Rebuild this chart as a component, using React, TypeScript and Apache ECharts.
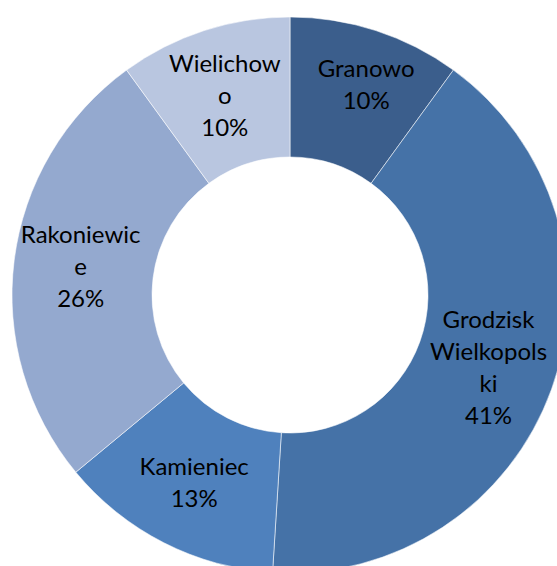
import React, { useEffect, useRef } from "react";
import * as echarts from "echarts";

const categories = ["Granowo", "Grodzisk Wielkopolski", "Kamieniec", "Rakoniewice", "Wielichowo"];
const values = [10, 41, 13, 26, 10];
const labelLines = [
  ["Granowo"],
  ["Grodzisk", "Wielkopols", "ki"],
  ["Kamieniec"],
  ["Rakoniewic", "e"],
  ["Wielichow", "o"],
];
const labelOffsets = [[11, -11], [0, 0], [0, -2], [0, -3], [0, 0]];
const colors = ["#3B5E8C", "#4572A7", "#4F81BD", "#94A9CF", "#B9C6E0"];

export default function App() {
  const ref = useRef<HTMLDivElement>(null);
  useEffect(() => {
    if (!ref.current) return;
    const chart = echarts.init(ref.current, null, { renderer: "svg" });
    const total = values.reduce((a, b) => a + b, 0);
    chart.setOption({
      animation: false,
      backgroundColor: "#ffffff",
      series: [
        {
          type: "pie",
          center: [290, 295],
          radius: [138, 278],
          startAngle: 90,
          clockwise: true,
          silent: true,
          emphasis: { disabled: true },
          itemStyle: { borderColor: "rgba(255,255,255,0.55)", borderWidth: 1 },
          label: {
            show: true,
            position: "inside",
            color: "#000000",
            fontFamily: "Lato",
            fontSize: 24,
            lineHeight: 32,
            align: "center",
            formatter: (p: any) => {
              const pct = Math.round((values[p.dataIndex] / total) * 100);
              return [...labelLines[p.dataIndex], pct + "%"].join("\n");
            },
          },
          labelLine: { show: false },
          data: categories.map((c, i) => ({
            name: c,
            value: values[i],
            itemStyle: { color: colors[i] },
            label: { offset: labelOffsets[i] },
          })),
        },
      ],
    });
    return () => chart.dispose();
  }, []);
  return (
    <div
      ref={ref}
      style={{ position: "absolute", left: 0, top: 0, width: 557, height: 566 }}
    />
  );
}
